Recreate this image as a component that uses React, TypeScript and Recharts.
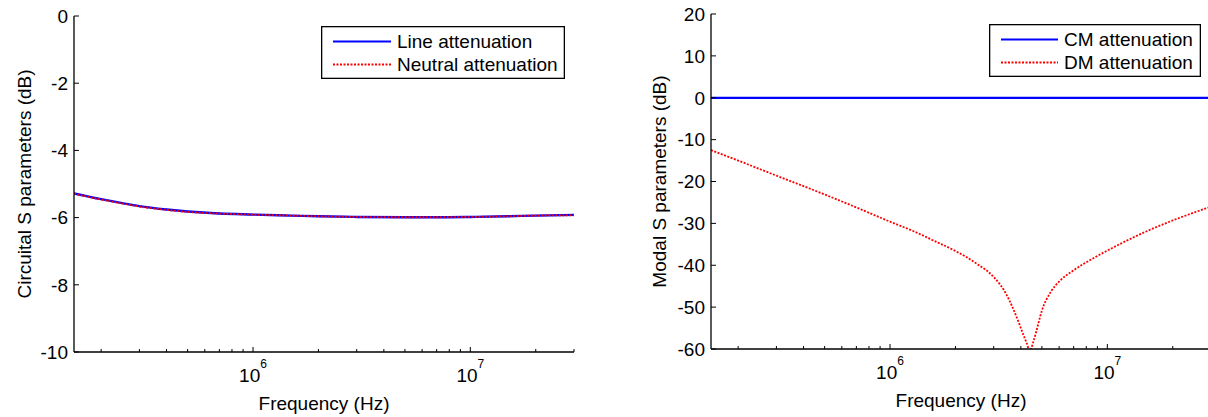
import { Legend, Line, LineChart, XAxis, YAxis } from "recharts";

const FONT = "'Liberation Sans', Arial, Helvetica, sans-serif";
const INK = "#000";

// circuital S parameters (left panel)
const circFreq = [1.5e5, 2e5, 2.5e5, 3e5, 4e5, 5e5, 7e5, 1e6, 1.5e6, 2e6, 3e6, 5e6, 7e6, 1e7, 1.5e7, 2e7, 3e7];
const lineAtt = [-5.28, -5.45, -5.57, -5.66, -5.76, -5.82, -5.88, -5.91, -5.94, -5.96, -5.98, -5.99, -5.99, -5.98, -5.96, -5.94, -5.92];
const neutralAtt = [-5.29, -5.46, -5.58, -5.67, -5.77, -5.83, -5.88, -5.91, -5.94, -5.96, -5.98, -5.99, -5.99, -5.98, -5.96, -5.94, -5.93];

// modal S parameters (right panel)
const modalFreq = [
	1.5e5, 2e5, 3e5, 5e5, 7e5, 1e6, 1.3e6, 1.6e6, 2e6, 2.5e6, 3e6, 3.4e6, 3.66e6, 3.9e6, 4.1e6, 4.25e6, 4.4e6,
	4.55e6, 4.7e6, 5e6, 5.5e6, 6e6, 7e6, 8.5e6, 1e7, 1.5e7, 2e7, 3e7,
];
const cmAtt = modalFreq.map(() => -0.05);
const dmAtt = [
	-12.5, -15.0, -18.6, -23.1, -26.2, -29.6, -32.0, -34.2, -36.6, -39.6, -42.8, -46.6, -50.0, -53.5, -56.5, -58.5, -60.5,
	-58.5, -56.0, -50.8, -46.3, -43.9, -41.2, -38.5, -36.5, -32.0, -29.3, -26.0,
];

// axes
const xDomain: [number, number] = [1.5e5, 3e7];
const xMajorTicks = [1e6, 1e7];
const xMinorTicks = [2e5, 3e5, 4e5, 5e5, 6e5, 7e5, 8e5, 9e5, 2e6, 3e6, 4e6, 5e6, 6e6, 7e6, 8e6, 9e6, 2e7, 3e7];
const xTicks = [...xMinorTicks, ...xMajorTicks].sort((a, b) => a - b);
const circYTicks = [0, -2, -4, -6, -8, -10];
const modalYTicks = [20, 10, 0, -10, -20, -30, -40, -50, -60];

const circData = circFreq.map((f, i) => ({ f, line: lineAtt[i], neutral: neutralAtt[i] }));
const modalData = modalFreq.map((f, i) => ({ f, cm: cmAtt[i], dm: dmAtt[i] }));

const axisLine = { stroke: INK, strokeWidth: 1.3 };

function isMajor(v: number) {
	return xMajorTicks.includes(v);
}

function BottomTick(props: any) {
	const { x, y, payload } = props;
	const major = isMajor(payload.value);
	return (
		<g>
			<line x1={x} y1={y} x2={x} y2={y - (major ? 5 : 3)} stroke={INK} strokeWidth={1} />
			{major && (
				<text x={x} y={y + 30} textAnchor="middle" fontFamily={FONT} fontSize={19} fill={INK}>
					10
					<tspan dy={-14} fontSize={12}>
						{Math.round(Math.log10(payload.value))}
					</tspan>
				</text>
			)}
		</g>
	);
}

function TopTick(props: any) {
	const { x, y, payload } = props;
	const len = isMajor(payload.value) ? 5 : 3;
	return <line x1={x} y1={y} x2={x} y2={y + len} stroke={INK} strokeWidth={1} />;
}

function LeftTick(props: any) {
	const { x, y, payload } = props;
	return (
		<g>
			<line x1={x} y1={y} x2={x + 5} y2={y} stroke={INK} strokeWidth={1} />
			<text x={x - 6} y={y} dy="0.36em" textAnchor="end" fontFamily={FONT} fontSize={19} fill={INK}>
				{String(payload.value)}
			</text>
		</g>
	);
}

function RightTick(props: any) {
	const { x, y } = props;
	return <line x1={x} y1={y} x2={x - 5} y2={y} stroke={INK} strokeWidth={1} />;
}

function xLabel(baseline: number) {
	return (props: any) => {
		const vb = props.viewBox || {};
		return (
			<text
				x={vb.x + vb.width / 2}
				y={vb.y + baseline}
				textAnchor="middle"
				fontFamily={FONT}
				fontSize={19}
				fill={INK}
			>
				Frequency (Hz)
			</text>
		);
	};
}

function yLabel(text: string, cx: number) {
	return (props: any) => {
		const vb = props.viewBox || {};
		const cy = vb.y + vb.height / 2;
		return (
			<text
				x={vb.x + cx}
				y={cy}
				transform={`rotate(-90 ${vb.x + cx} ${cy})`}
				textAnchor="middle"
				dy="0.36em"
				fontFamily={FONT}
				fontSize={19}
				fill={INK}
			>
				{text}
			</text>
		);
	};
}

interface LegendItem {
	label: string;
	color: string;
	dashed?: boolean;
}

function LegendBox({ items, width, lineEnd }: { items: LegendItem[]; width: number; lineEnd: number }) {
	const height = 53;
	return (
		<svg width={width} height={height} style={{ display: "block" }}>
			<rect x={0.65} y={0.65} width={width - 1.3} height={height - 1.3} fill="#fff" stroke={INK} strokeWidth={1.3} />
			{items.map((it, i) => {
				const cy = 15.5 + i * 23;
				return (
					<g key={it.label}>
						<line
							x1={12}
							x2={lineEnd}
							y1={cy}
							y2={cy}
							stroke={it.color}
							strokeWidth={it.dashed ? 1.8 : 2}
							strokeDasharray={it.dashed ? "2 1.5" : undefined}
						/>
						<text x={lineEnd + 6} y={cy} dy="0.36em" fontFamily={FONT} fontSize={19} fill={INK}>
							{it.label}
						</text>
					</g>
				);
			})}
		</svg>
	);
}

const circLegend: LegendItem[] = [
	{ label: "Line attenuation", color: "#0000ff" },
	{ label: "Neutral attenuation", color: "#ff0000", dashed: true },
];
const modalLegend: LegendItem[] = [
	{ label: "CM attenuation", color: "#0000ff" },
	{ label: "DM attenuation", color: "#ff0000", dashed: true },
];

function CircuitalChart() {
	return (
		<LineChart width={600} height={417} data={circData} margin={{ top: 16, right: 26, bottom: 0, left: 0 }}>
			<XAxis
				xAxisId="bottom"
				dataKey="f"
				type="number"
				scale="log"
				domain={xDomain}
				allowDataOverflow
				ticks={xTicks}
				interval={0}
				height={65}
				tickSize={0}
				tickMargin={0}
				tickLine={false}
				axisLine={axisLine}
				tick={<BottomTick />}
				label={xLabel(58)}
			/>
			<XAxis
				xAxisId="top"
				orientation="top"
				dataKey="f"
				type="number"
				scale="log"
				domain={xDomain}
				allowDataOverflow
				ticks={xTicks}
				interval={0}
				height={0}
				tickSize={0}
				tickMargin={0}
				tickLine={false}
				axisLine={axisLine}
				tick={<TopTick />}
			/>
			<YAxis
				yAxisId="left"
				type="number"
				domain={[-10, 0]}
				allowDataOverflow
				ticks={circYTicks}
				interval={0}
				width={74}
				tickSize={0}
				tickMargin={0}
				tickLine={false}
				axisLine={axisLine}
				tick={<LeftTick />}
				label={yLabel("Circuital S parameters (dB)", 24)}
			/>
			<YAxis
				yAxisId="right"
				orientation="right"
				type="number"
				domain={[-10, 0]}
				allowDataOverflow
				ticks={circYTicks}
				interval={0}
				width={0}
				tickSize={0}
				tickMargin={0}
				tickLine={false}
				axisLine={axisLine}
				tick={<RightTick />}
			/>
			<Legend
				layout="horizontal"
				verticalAlign="middle"
				align="center"
				wrapperStyle={{ left: 321, top: 26, width: 244, height: 53 }}
				content={() => <LegendBox items={circLegend} width={244} lineEnd={70} />}
			/>
			<Line
				xAxisId="bottom"
				yAxisId="left"
				type="monotone"
				dataKey="line"
				stroke="#0000ff"
				strokeWidth={2.4}
				dot={false}
				activeDot={false}
				isAnimationActive={false}
			/>
			<Line
				xAxisId="bottom"
				yAxisId="left"
				type="monotone"
				dataKey="neutral"
				stroke="#ff0000"
				strokeWidth={1.8}
				strokeDasharray="2 1.5"
				dot={false}
				activeDot={false}
				isAnimationActive={false}
			/>
		</LineChart>
	);
}

function ModalChart() {
	return (
		<LineChart width={604} height={417} data={modalData} margin={{ top: 14, right: 1, bottom: 0, left: 0 }}>
			<XAxis
				xAxisId="bottom"
				dataKey="f"
				type="number"
				scale="log"
				domain={xDomain}
				allowDataOverflow
				ticks={xTicks}
				interval={0}
				height={68}
				tickSize={0}
				tickMargin={0}
				tickLine={false}
				axisLine={axisLine}
				tick={<BottomTick />}
				label={xLabel(58)}
			/>
			<XAxis
				xAxisId="top"
				orientation="top"
				dataKey="f"
				type="number"
				scale="log"
				domain={xDomain}
				allowDataOverflow
				ticks={xTicks}
				interval={0}
				height={0}
				tickSize={0}
				tickMargin={0}
				tickLine={false}
				axisLine={axisLine}
				tick={<TopTick />}
			/>
			<YAxis
				yAxisId="left"
				type="number"
				domain={[-60, 20]}
				allowDataOverflow
				ticks={modalYTicks}
				interval={0}
				width={103}
				tickSize={0}
				tickMargin={0}
				tickLine={false}
				axisLine={axisLine}
				tick={<LeftTick />}
				label={yLabel("Modal S parameters (dB)", 51)}
			/>
			<YAxis
				yAxisId="right"
				orientation="right"
				type="number"
				domain={[-60, 20]}
				allowDataOverflow
				ticks={modalYTicks}
				interval={0}
				width={0}
				tickSize={0}
				tickMargin={0}
				tickLine={false}
				axisLine={axisLine}
				tick={<RightTick />}
			/>
			<Legend
				layout="horizontal"
				verticalAlign="middle"
				align="center"
				wrapperStyle={{ left: 381, top: 24, width: 212, height: 53 }}
				content={() => <LegendBox items={modalLegend} width={212} lineEnd={69} />}
			/>
			<Line
				xAxisId="bottom"
				yAxisId="left"
				type="monotone"
				dataKey="cm"
				stroke="#0000ff"
				strokeWidth={2.2}
				dot={false}
				activeDot={false}
				isAnimationActive={false}
			/>
			<Line
				xAxisId="bottom"
				yAxisId="left"
				type="monotone"
				dataKey="dm"
				stroke="#ff0000"
				strokeWidth={1.8}
				strokeDasharray="2 1.5"
				dot={false}
				activeDot={false}
				isAnimationActive={false}
			/>
		</LineChart>
	);
}

export default function App() {
	return (
		<div
			style={{
				position: "absolute",
				left: 0,
				top: 0,
				width: 1208,
				height: 417,
				overflow: "hidden",
				background: "#fff",
			}}
		>
			<div style={{ position: "absolute", left: 0, top: 0 }}>
				<CircuitalChart />
			</div>
			<div style={{ position: "absolute", left: 608, top: 0 }}>
				<ModalChart />
			</div>
		</div>
	);
}
